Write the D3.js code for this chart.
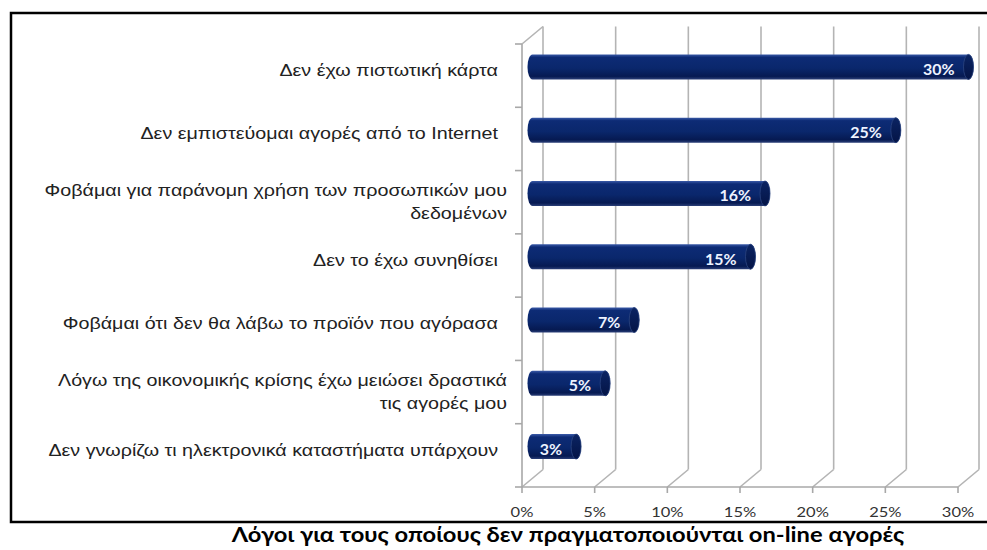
<!DOCTYPE html>
<html>
<head>
<meta charset="utf-8">
<script src="https://cdn.jsdelivr.net/npm/d3@7"></script>
<style>
  body { margin: 0; background: #fff; }
  svg { display: block; }
</style>
</head>
<body>
<div id="chart"></div>
<script>
// Chart data
const categories = [
    ["Δεν έχω πιστωτική κάρτα"],
    ["Δεν εμπιστεύομαι αγορές από το Internet"],
    ["Φοβάμαι για παράνομη χρήση των προσωπικών μου", "δεδομένων"],
    ["Δεν το έχω συνηθίσει"],
    ["Φοβάμαι ότι δεν θα λάβω το προϊόν που αγόρασα"],
    ["Λόγω της οικονομικής κρίσης έχω μειώσει δραστικά", "τις αγορές μου"],
    ["Δεν γνωρίζω τι ηλεκτρονικά καταστήματα υπάρχουν"]
];
const values = [0.30, 0.25, 0.16, 0.15, 0.07, 0.05, 0.03];
const ticks = [0, 0.05, 0.10, 0.15, 0.20, 0.25, 0.30];
const title = "Λόγοι για τους οποίους δεν πραγματοποιούνται on-line αγορές";

const width = 987, height = 550;
const depthX = 21, depthY = -17.5;   // 3D depth offset of the back wall
const stretch = 1.18;                // the original picture is a bit wide

const svg = d3.select("#chart").append("svg")
    .attr("width", width)
    .attr("height", height);

const defs = svg.append("defs");
const grad = defs.append("linearGradient")
    .attr("id", "barGrad").attr("x1", 0).attr("y1", 0).attr("x2", 0).attr("y2", 1);
grad.append("stop").attr("offset", "0%").attr("stop-color", "#3a5aa8");
grad.append("stop").attr("offset", "12%").attr("stop-color", "#0d2b75");
grad.append("stop").attr("offset", "55%").attr("stop-color", "#0a276c");
grad.append("stop").attr("offset", "88%").attr("stop-color", "#061a52");
grad.append("stop").attr("offset", "100%").attr("stop-color", "#2b3f78");

const capGrad = defs.append("linearGradient")
    .attr("id", "capGrad").attr("x1", 0).attr("y1", 0).attr("x2", 0).attr("y2", 1);
capGrad.append("stop").attr("offset", "0%").attr("stop-color", "#0b2463");
capGrad.append("stop").attr("offset", "100%").attr("stop-color", "#041446");

// Outer frame
svg.append("rect")
    .attr("x", 11).attr("y", 13)
    .attr("width", 990).attr("height", 509)
    .attr("fill", "none")
    .attr("stroke", "#000")
    .attr("stroke-width", 2.5);

// Scales (front plane)
const x = d3.scaleLinear().domain([0, 0.30]).range([522, 958]);
const y = d3.scaleBand().domain(d3.range(categories.length)).range([44, 487]);

const yTop = y.range()[0], yBot = y.range()[1];
const gridColor = "#b4b4b4";
const grid = svg.append("g")
    .attr("stroke", gridColor)
    .attr("stroke-width", 1.6)
    .attr("fill", "none");

// back wall gridlines
grid.selectAll(".vgrid")
    .data(ticks)
    .enter().append("line")
    .attr("x1", d => x(d) + depthX).attr("x2", d => x(d) + depthX)
    .attr("y1", yTop + depthY).attr("y2", yBot + depthY);

// floor diagonals
grid.selectAll(".floor")
    .data(ticks)
    .enter().append("line")
    .attr("x1", d => x(d)).attr("y1", yBot)
    .attr("x2", d => x(d) + depthX).attr("y2", yBot + depthY);

// left wall
grid.append("line")
    .attr("x1", x(0)).attr("y1", yTop)
    .attr("x2", x(0) + depthX).attr("y2", yTop + depthY);

// front axes
const axisG = svg.append("g").attr("stroke", "#a8a8a8").attr("stroke-width", 1.6);
axisG.append("line")
    .attr("x1", x(0)).attr("x2", x(0))
    .attr("y1", yTop).attr("y2", yBot);
axisG.append("line")
    .attr("x1", x(0)).attr("x2", x(0.30))
    .attr("y1", yBot).attr("y2", yBot);
axisG.selectAll(".ytick")
    .data(d3.range(categories.length + 1))
    .enter().append("line")
    .attr("x1", x(0) - 7).attr("x2", x(0))
    .attr("y1", d => yTop + d * y.bandwidth())
    .attr("y2", d => yTop + d * y.bandwidth());
axisG.selectAll(".xtick")
    .data(ticks)
    .enter().append("line")
    .attr("x1", d => x(d)).attr("x2", d => x(d))
    .attr("y1", yBot).attr("y2", yBot + 6);

// x tick labels
svg.selectAll(".xlabel")
    .data(ticks)
    .enter().append("text")
    .attr("transform", d => `translate(${x(d)},${yBot + 30}) scale(${stretch},1)`)
    .attr("text-anchor", "middle")
    .attr("font-family", "Lato, 'Open Sans', sans-serif")
    .attr("font-size", 14)
    .attr("fill", "#333")
    .text(d3.format(".0%"));

// category labels
const lineH = 23;
const catG = svg.selectAll(".cat")
    .data(categories)
    .enter().append("text")
    .attr("text-anchor", "end")
    .attr("font-family", "'Liberation Sans', Arial, sans-serif")
    .attr("font-size", 16.7)
    .attr("fill", "#222")
    .attr("transform", (d, i) => {
        const c = y(i) + y.bandwidth() / 2 - (d.length === 1 ? 5 : 0);
        const first = c - (d.length - 1) * lineH / 2 + 5.5;
        return `translate(${d.length === 1 ? 498 : 507},${first}) scale(${stretch},1)`;
    });
catG.selectAll("tspan")
    .data(d => d)
    .enter().append("tspan")
    .attr("x", 0)
    .attr("dy", (d, i) => i === 0 ? 0 : lineH)
    .text(d => d);

// bars (cylinders placed at mid depth)
const barH = 25, capR = 5;
const midX = depthX / 2, midY = depthY / 2;
const bars = svg.selectAll(".bar")
    .data(values)
    .enter().append("g")
    .attr("transform", (d, i) => `translate(0,${y(i) + y.bandwidth() / 2 + midY})`);

bars.append("path")
    .attr("fill", "url(#barGrad)")
    .attr("d", d => {
        const x0 = x(0) + midX, x1 = x(d) + midX;
        return `M${x0},${-barH / 2} L${x1},${-barH / 2}
                A${capR},${barH / 2} 0 0 1 ${x1},${barH / 2}
                L${x0},${barH / 2}
                A${capR},${barH / 2} 0 0 1 ${x0},${-barH / 2} Z`;
    });

bars.append("ellipse")
    .attr("cx", d => x(d) + midX)
    .attr("cy", 0)
    .attr("rx", capR)
    .attr("ry", barH / 2)
    .attr("fill", "url(#capGrad)")
    .attr("stroke", "#2c4580")
    .attr("stroke-width", 0.8);

bars.append("text")
    .attr("transform", d => `translate(${x(d) + midX - 14},8) scale(1.1,1)`)
    .attr("text-anchor", "end")
    .attr("font-family", "Lato, 'Open Sans', sans-serif")
    .attr("font-weight", "bold")
    .attr("font-size", 14.5)
    .attr("fill", "#eef3ff")
    .text(d3.format(".0%"));

// title
svg.append("text")
    .attr("transform", `translate(568,542) scale(${stretch},1)`)
    .attr("text-anchor", "middle")
    .attr("font-family", "Lato, 'Open Sans', sans-serif")
    .attr("font-weight", "bold")
    .attr("font-size", 20.1)
    .attr("fill", "#000")
    .text(title);
</script>
</body>
</html>
